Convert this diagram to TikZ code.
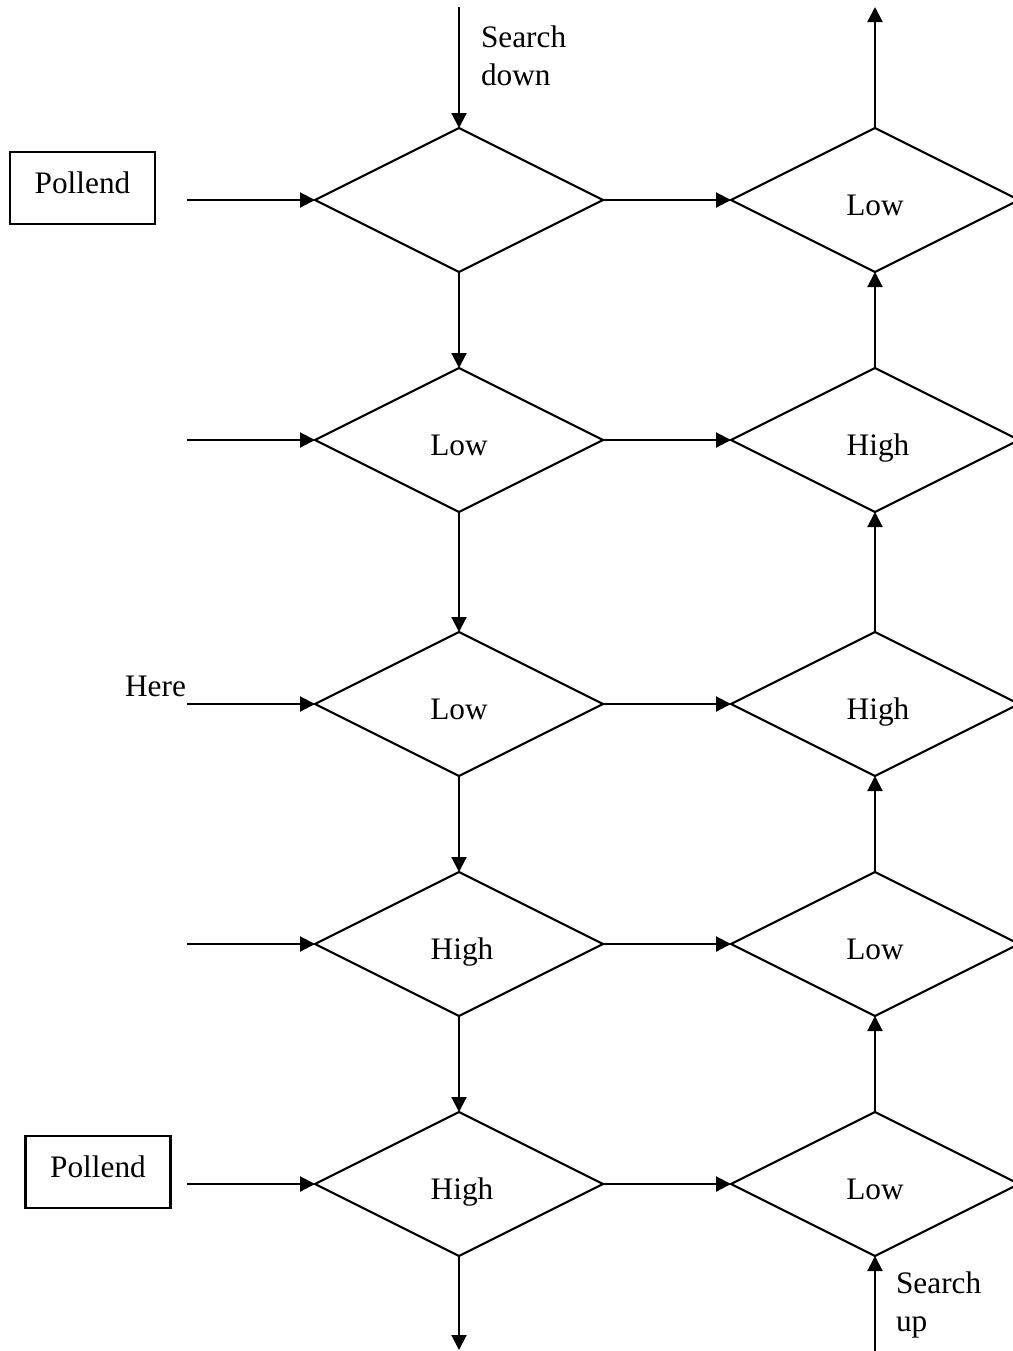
\documentclass[tikz,border=0pt]{standalone}
\usepackage{fontspec}
\setmainfont{Liberation Serif}
\usetikzlibrary{shapes.geometric,arrows.meta,calc}
\begin{document}
\begin{tikzpicture}[x=0.5pt,y=-0.5pt,line width=1.05pt]
\tikzset{
  cell/.style={draw, shape=diamond, minimum width=144pt, minimum height=72pt,
               inner sep=0pt, outer sep=0pt},
  flow/.style={-{Triangle[length=7.5pt,width=7.5pt]}},
  txt/.style={font=\fontsize{15.65pt}{18.7pt}\selectfont, inner sep=0pt},
  lbl/.style={txt, anchor=base},
  tag/.style={draw, txt, minimum width=72.5pt, minimum height=36pt,
              text height=12pt, text depth=7pt},
  note/.style={txt, align=left, anchor=base west}
}
\clip (0,0) rectangle (1013,1351);

% left column of decisions
\node[cell] (L1) at (459,200) {};
\node[cell] (L2) at (459,440) {};
\node[cell] (L3) at (459,704) {};
\node[cell] (L4) at (459,944) {};
\node[cell] (L5) at (459,1184) {};
% right column of decisions
\node[cell] (R1) at (875,200) {};
\node[cell] (R2) at (875,440) {};
\node[cell] (R3) at (875,704) {};
\node[cell] (R4) at (875,944) {};
\node[cell] (R5) at (875,1184) {};

% decision labels
\node[lbl] (tL2) at ($(L2.center)+(0,15.5)$) {Low};
\node[lbl] (tL3) at ($(L3.center)+(0,15.5)$) {Low};
\node[lbl] (tL4) at ($(L4.center)+(3,15.5)$) {High};
\node[lbl] (tL5) at ($(L5.center)+(3,15.5)$) {High};
\node[lbl] (tR1) at ($(R1.center)+(0,15.5)$) {Low};
\node[lbl] (tR2) at ($(R2.center)+(3,15.5)$) {High};
\node[lbl] (tR3) at ($(R3.center)+(3,15.5)$) {High};
\node[lbl] (tR4) at ($(R4.center)+(0,15.5)$) {Low};
\node[lbl] (tR5) at ($(R5.center)+(0,15.5)$) {Low};

% inputs from the left
\coordinate (in1) at (187,200);
\coordinate (in2) at (187,440);
\coordinate (in3) at (187,704);
\coordinate (in4) at (187,944);
\coordinate (in5) at (187,1184);
\foreach \i in {1,...,5} {
  \draw[flow] (in\i) -- (L\i.west);
  \draw[flow] (L\i.east) -- (R\i.west);
}

% search down the left column, up the right column
\foreach \i/\j in {1/2,2/3,3/4,4/5} {
  \draw[flow] (L\i.south) -- (L\j.north);
  \draw[flow] (R\j.north) -- (R\i.south);
}
\coordinate (topL) at (459,7);
\coordinate (topR) at (875,7);
\coordinate (botL) at (459,1350);
\coordinate (botR) at (875,1355);
\draw[flow] (topL) -- (L1.north);
\draw[flow] (R1.north) -- (topR);
\draw[flow] (L5.south) -- (botL);
\draw[flow] (botR) -- (R5.south);

% side annotations
\node[tag] (p1) at (82.5,188) {Pollend};
\node[tag] (p2) at (98,1172) {Pollend};
\node[txt, anchor=base east] (here) at (187,696) {Here};
\node[note] (sdown) at (480,85) {Search\\down};
\node[note] (sup) at (895,1331) {Search\\up};
\end{tikzpicture}
\end{document}
